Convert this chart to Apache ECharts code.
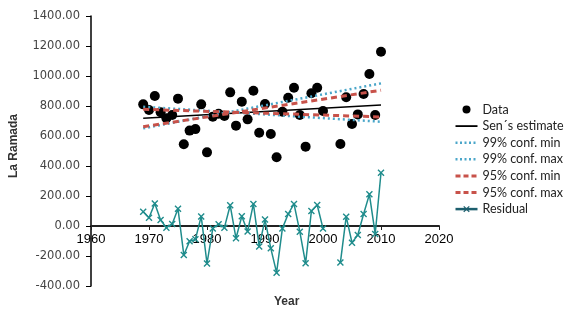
<!DOCTYPE html>
<html>
<head>
<meta charset="utf-8">
<script src="https://cdn.jsdelivr.net/npm/echarts@6/dist/echarts.min.js"></script>
<style>
html,body{margin:0;padding:0;background:#fff;}
#chart{width:572px;height:319px;}
</style>
</head>
<body>
<div id="chart"></div>
<script>
var years=[1969,1970,1971,1972,1973,1974,1975,1976,1977,1978,1979,1980,1981,1982,1983,1984,1985,1986,1987,1988,1989,1990,1991,1992,1993,1994,1995,1996,1997,1998,1999,2000,2001,2002,2003,2004,2005,2006,2007,2008,2009,2010];
var rainfall=[811,773,867,758,718,740,849,545,636,646,811,491,729,748,733,891,669,829,711,902,622,813,613,458,762,855,922,740,529,885,922,767,null,null,547,858,680,744,880,1013,740,1162];
var residual=[95,55,150,40,-11,14,115,-193,-102,-89,64,-250,-16,12,-11,138,-82,65,-36,147,-136,43,-149,-311,-16,80,147,-38,-249,100,140,-16,null,null,-244,62,-111,-60,80,211,-53,355];
// trend lines: value at first and last year
var lineYears=[1969,2010];
var senEst=[718,807];
var conf99min=[795,695];
var conf99max=[651,951];
var conf95min=[778,727];
var conf95max=[662,905];
var yTicks=[-400,-200,0,200,400,600,800,1000,1200,1400];
var xTicks=[1960,1970,1980,1990,2000,2010,2020];

var chart=echarts.init(document.getElementById('chart'));

function pairs(xs,ys){
    return xs.map(function(x,i){return [x,ys[i]];});
}
var xShape='path://M0,1.4L1.4,0L5,3.6L8.6,0L10,1.4L6.4,5L10,8.6L8.6,10L5,6.4L1.4,10L0,8.6L3.6,5Z';
var noDot={opacity:0};

var option={
    animation:false,
    grid:{left:91,right:133,top:16,bottom:33},
    legend:{
        orient:'vertical',
        left:449,
        top:98,
        itemWidth:22,
        itemHeight:8,
        itemGap:3.6,
        textStyle:{fontFamily:'Lato',fontSize:12.5,color:'#222'},
        data:[
            {name:'Data',icon:'circle',itemStyle:{color:'#000',opacity:1}},
            {name:'Sen´s estimate',itemStyle:noDot,lineStyle:{width:1.8}},
            {name:'99% conf. min',itemStyle:noDot,lineStyle:{width:2.5,type:[2,2.5]}},
            {name:'99% conf. max',itemStyle:noDot,lineStyle:{width:2.5,type:[2,2.5]}},
            {name:'95% conf. min',itemStyle:noDot,lineStyle:{width:3,type:[5,3]}},
            {name:'95% conf. max',itemStyle:noDot,lineStyle:{width:3,type:[5,3]}},
            {name:'Residual',itemStyle:{color:'#1d5f6e'},lineStyle:{color:'#1d5f6e',width:2.5}}
        ]
    },
    xAxis:{
        type:'value',
        min:xTicks[0],
        max:xTicks[xTicks.length-1],
        interval:10,
        offset:-60,
        axisLine:{onZero:false,lineStyle:{color:'#222',width:2}},
        axisTick:{show:true,length:4,lineStyle:{color:'#222'}},
        axisLabel:{margin:7,fontFamily:'Liberation Sans',fontSize:13,color:'#000',
            formatter:function(v){return String(v);}},
        splitLine:{show:false}
    },
    yAxis:{
        type:'value',
        min:yTicks[0],
        max:yTicks[yTicks.length-1],
        interval:200,
        axisLine:{show:true,lineStyle:{color:'#000',width:1.5}},
        axisTick:{show:true,length:5,lineStyle:{color:'#000'}},
        axisLabel:{margin:11,fontFamily:'DejaVu Sans',fontSize:11.5,color:'#444',
            formatter:function(v){return v.toFixed(2);}},
        splitLine:{show:false}
    },
    graphic:[
        {type:'text',left:8,top:114,rotation:Math.PI/2,
            style:{text:'La Ramada',font:'bold 12px "Liberation Sans"',fill:'#333'}},
        {type:'text',left:274,top:296,
            style:{text:'Year',font:'bold 12px "Liberation Sans"',fill:'#333'}}
    ],
    series:[
        {name:'Data',type:'scatter',data:pairs(years,rainfall).filter(function(p){return p[1]!==null;}),
            symbolSize:10,itemStyle:{color:'#000',opacity:1}},
        {name:'Sen´s estimate',type:'line',data:pairs(lineYears,senEst),symbol:'none',
            lineStyle:{color:'#000',width:1.5},itemStyle:{color:'#000'}},
        {name:'99% conf. min',type:'line',data:pairs(lineYears,conf99min),symbol:'none',
            lineStyle:{color:'#4aa6c9',width:2.5,type:[2,3]},itemStyle:{color:'#4aa6c9'}},
        {name:'99% conf. max',type:'line',data:pairs(lineYears,conf99max),symbol:'none',
            lineStyle:{color:'#4aa6c9',width:2.5,type:[2,3]},itemStyle:{color:'#4aa6c9'}},
        {name:'95% conf. min',type:'line',data:pairs(lineYears,conf95min),symbol:'none',
            lineStyle:{color:'#c8524a',width:3,type:[6,4]},itemStyle:{color:'#c8524a'}},
        {name:'95% conf. max',type:'line',data:pairs(lineYears,conf95max),symbol:'none',
            lineStyle:{color:'#c8524a',width:3,type:[6,4]},itemStyle:{color:'#c8524a'}},
        {name:'Residual',type:'line',data:pairs(years,residual),connectNulls:false,
            symbol:xShape,symbolSize:7,showAllSymbol:true,
            lineStyle:{color:'#1f8c8c',width:1.5},itemStyle:{color:'#1f8c8c'}}
    ]
};
chart.setOption(option);
</script>
</body>
</html>
